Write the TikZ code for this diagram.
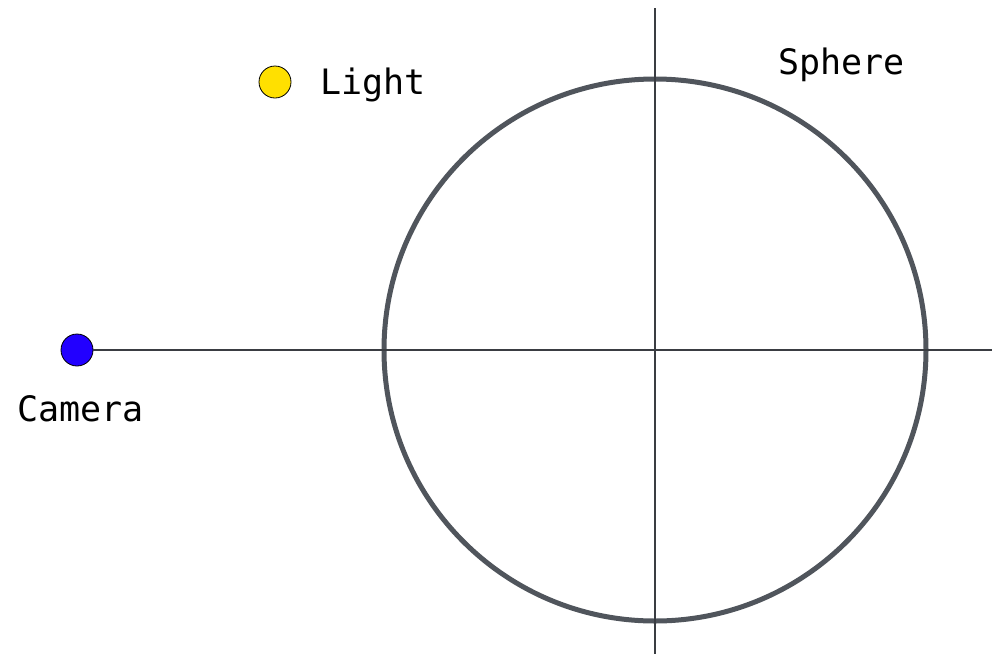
\documentclass[tikz,border=0pt]{standalone}
\usepackage{fontspec}
\setmonofont{DejaVu Sans Mono}
\usepackage{tikz}
\usetikzlibrary{positioning, calc}
\definecolor{SphereGray}{HTML}{50555C}
\definecolor{AxisGray}{HTML}{3A3D42}
\definecolor{CamBlue}{HTML}{2200FF}
\definecolor{LightGold}{HTML}{FFE000}

\begin{document}
\begin{tikzpicture}[
  x=1pt, y=-1pt,
  font         = \ttfamily\fontsize{35}{40}\selectfont,
  % small filled markers for camera and light
  dot/.style   = {circle, draw=black, line width=0.8pt, minimum size=32pt,
                  inner sep=0pt},
  axis/.style  = {draw=AxisGray, line width=1.3pt},
  sphere/.style= {circle, draw=SphereGray, line width=5pt,
                  minimum size=542pt, inner sep=0pt},
  lbl/.style   = {inner sep=0pt, anchor=base west},
]
\useasboundingbox (0,0) rectangle (1002,654);

% Sphere centre at (655,350), radius 271
\node[sphere] (sphere) at (655, 350) {};

\coordinate (ytop) at (655, 8);
\coordinate (ybot) at (655, 654);
\coordinate (xend) at (992, 350);

\node[dot, fill=CamBlue]   (camera) at (77, 350)  {};
\node[dot, fill=LightGold] (light)  at (275, 82)  {};

% ── Axes ───────────────────────────────────────────────────────────────────
\draw[axis] (ytop) -- (ybot);
\draw[axis] (camera) -- (xend);

% ── Labels ─────────────────────────────────────────────────────────────────
\node[lbl] (cameralbl) at (17, 421) {Camera};
\node[lbl] (lightlbl)  at (320, 94) {Light};
\node[lbl] (spherelbl) at (778, 74) {Sphere};

\end{tikzpicture}
\end{document}
